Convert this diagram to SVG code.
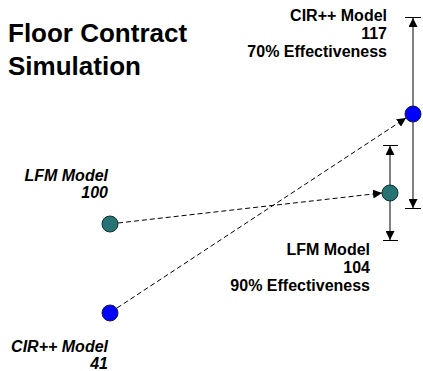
<svg xmlns="http://www.w3.org/2000/svg" width="423" height="371" viewBox="0 0 423 371">
  <style>
    .title { font-family: "Liberation Sans", Arial, sans-serif; font-weight: bold; font-size: 26px; fill: #000; }
    .lbl { font-family: "Liberation Sans", Arial, sans-serif; font-weight: bold; font-size: 16px; fill: #000; text-anchor: end; }
    .it { font-style: italic; }
    .bar { stroke: #808080; stroke-width: 2; fill: none; }
    .tick { stroke: #000; stroke-width: 1; }
    .dash { stroke: #000; stroke-width: 1; stroke-dasharray: 5 3; fill: none; }
    .blue { fill: #0000FF; stroke: #1a1a40; stroke-width: 1; }
    .teal { fill: #267373; stroke: #10302f; stroke-width: 1; }
  </style>
  <defs>
    <marker id="ah" viewBox="0 0 10 10" refX="10" refY="5" markerWidth="9" markerHeight="9" markerUnits="userSpaceOnUse" orient="auto">
      <path d="M0,0 L10,5 L0,10 Z" fill="#000"/>
    </marker>
  </defs>
  <rect width="423" height="371" fill="#fff"/>

  <text class="title" x="8" y="42">Floor Contract</text>
  <text class="title" x="8" y="75">Simulation</text>

  <!-- connectors -->
  <g id="connectors">
    <!-- range bar: CIR++ -->
    <line class="bar" x1="413" y1="114" x2="413" y2="18" marker-end="url(#ah)"/>
    <line class="bar" x1="413" y1="114" x2="413" y2="208" marker-end="url(#ah)"/>
    <line class="tick" x1="405" y1="17.5" x2="421" y2="17.5"/>
    <line class="tick" x1="405" y1="208.5" x2="421" y2="208.5"/>
    <!-- range bar: LFM -->
    <line class="bar" x1="390" y1="193" x2="390" y2="146" marker-end="url(#ah)"/>
    <line class="bar" x1="390" y1="193" x2="390" y2="240" marker-end="url(#ah)"/>
    <line class="tick" x1="383" y1="145.5" x2="398" y2="145.5"/>
    <line class="tick" x1="383" y1="240.5" x2="398" y2="240.5"/>
    <!-- simulated moves -->
    <line class="dash" x1="118" y1="223" x2="382" y2="193" marker-end="url(#ah)"/>
    <line class="dash" x1="117" y1="308" x2="406" y2="118" marker-end="url(#ah)"/>
  </g>

  <g id="cir-start">
    <circle class="blue" cx="110" cy="313" r="8"/>
    <text class="lbl it" x="108" y="352">CIR++ Model</text>
    <text class="lbl it" x="108" y="369">41</text>
  </g>

  <g id="lfm-start">
    <circle class="teal" cx="110" cy="224" r="8"/>
    <text class="lbl it" x="108" y="181">LFM Model</text>
    <text class="lbl it" x="108" y="198">100</text>
  </g>

  <g id="cir-end">
    <circle class="blue" cx="413" cy="114" r="8"/>
    <text class="lbl" x="387" y="21">CIR++ Model</text>
    <text class="lbl" x="387" y="39">117</text>
    <text class="lbl" x="387" y="57">70% Effectiveness</text>
  </g>

  <g id="lfm-end">
    <circle class="teal" cx="390" cy="193" r="8"/>
    <text class="lbl" x="370" y="255">LFM Model</text>
    <text class="lbl" x="370" y="273">104</text>
    <text class="lbl" x="370" y="291">90% Effectiveness</text>
  </g>
</svg>
